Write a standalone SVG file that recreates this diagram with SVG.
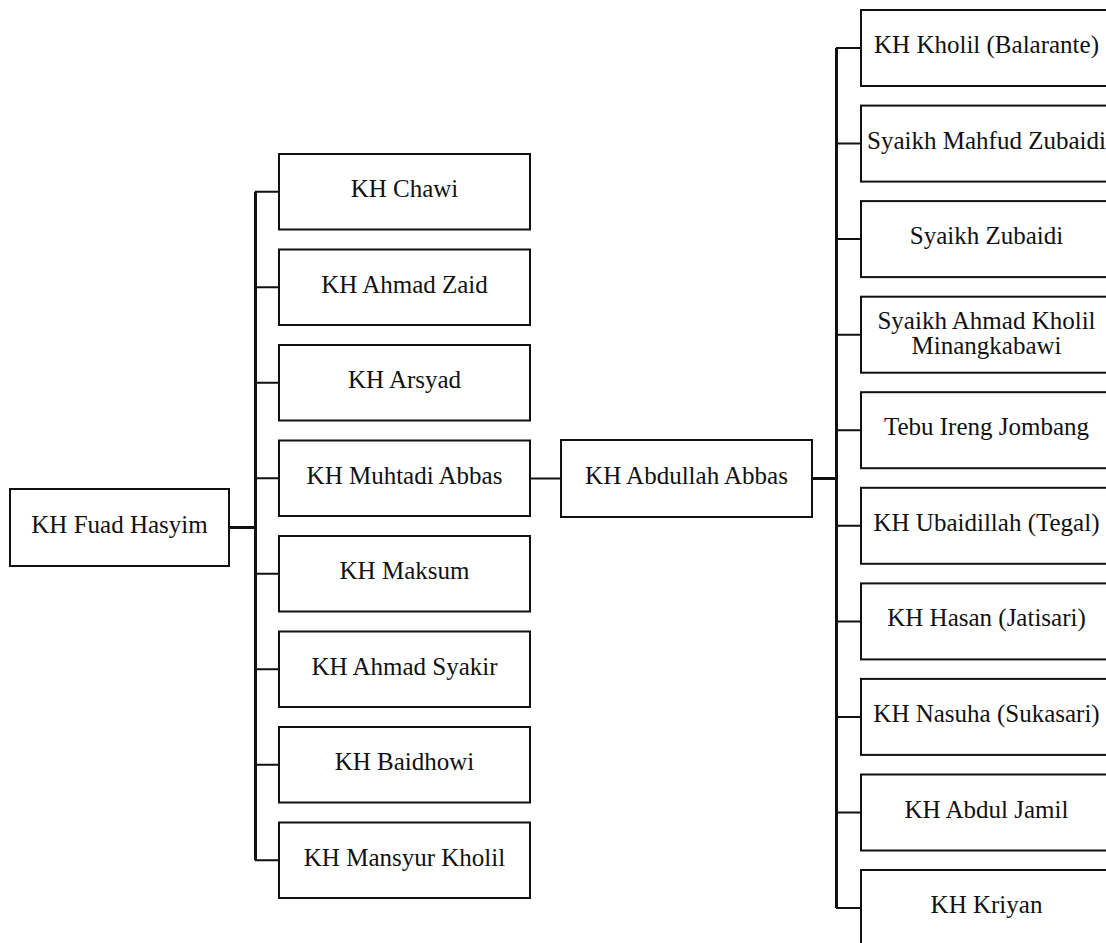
<svg xmlns="http://www.w3.org/2000/svg" width="1106" height="943" viewBox="0 0 1106 943">
  <style>
    .box { fill: #ffffff; stroke: #111111; stroke-width: 2; }
    .lbl { font-family: 'Liberation Serif', 'Times New Roman', Times, 'DejaVu Serif', serif; font-size: 25px; fill: #111111; text-anchor: middle; }
    .wire { fill: none; stroke: #111111; stroke-width: 2; }
    .bus { fill: none; stroke: #111111; stroke-width: 3; }
  </style>
  <rect width="1106" height="943" fill="#ffffff"/>

  <!-- connectors -->
  <g id="connectors">
    <!-- root to left trunk -->
    <line class="bus" x1="229" y1="527.5" x2="256" y2="527.5"/>
    <line class="bus" x1="255.5" y1="191.7" x2="255.5" y2="860.2"/>
    <path class="wire" d="M255 191.7H279 M255 287.2H279 M255 382.7H279 M255 478.2H279 M255 573.7H279 M255 669.2H279 M255 764.7H279 M255 860.2H279"/>
    <!-- Muhtadi Abbas to Abdullah Abbas -->
    <line class="wire" x1="530" y1="478.5" x2="561" y2="478.5"/>
    <!-- Abdullah Abbas to right trunk -->
    <line class="bus" x1="812" y1="478.5" x2="837" y2="478.5"/>
    <line class="bus" x1="836.5" y1="48" x2="836.5" y2="908"/>
    <path class="wire" d="M836 48H861 M836 143.6H861 M836 239.1H861 M836 334.7H861 M836 430.2H861 M836 525.8H861 M836 621.4H861 M836 716.9H861 M836 812.5H861 M836 908H861"/>
  </g>

  <!-- root -->
  <g id="kh-fuad-hasyim">
    <rect class="box" x="10" y="489" width="219" height="77"/>
    <text class="lbl" x="119.5" y="533" font-family="Liberation Serif, Times New Roman, DejaVu Serif, serif">KH Fuad Hasyim</text>
  </g>

  <!-- left column -->
  <g id="kh-chawi">
    <rect class="box" x="279" y="154" width="251" height="75.5"/>
    <text class="lbl" x="404.5" y="197">KH Chawi</text>
  </g>
  <g id="kh-ahmad-zaid">
    <rect class="box" x="279" y="249.5" width="251" height="75.5"/>
    <text class="lbl" x="404.5" y="292.5">KH Ahmad Zaid</text>
  </g>
  <g id="kh-arsyad">
    <rect class="box" x="279" y="345" width="251" height="75.5"/>
    <text class="lbl" x="404.5" y="388">KH Arsyad</text>
  </g>
  <g id="kh-muhtadi-abbas">
    <rect class="box" x="279" y="440.5" width="251" height="75.5"/>
    <text class="lbl" x="404.5" y="483.5">KH Muhtadi Abbas</text>
  </g>
  <g id="kh-maksum">
    <rect class="box" x="279" y="536" width="251" height="75.5"/>
    <text class="lbl" x="404.5" y="579">KH Maksum</text>
  </g>
  <g id="kh-ahmad-syakir">
    <rect class="box" x="279" y="631.5" width="251" height="75.5"/>
    <text class="lbl" x="404.5" y="674.5">KH Ahmad Syakir</text>
  </g>
  <g id="kh-baidhowi">
    <rect class="box" x="279" y="727" width="251" height="75.5"/>
    <text class="lbl" x="404.5" y="770">KH Baidhowi</text>
  </g>
  <g id="kh-mansyur-kholil">
    <rect class="box" x="279" y="822.5" width="251" height="75.5"/>
    <text class="lbl" x="404.5" y="865.5">KH Mansyur Kholil</text>
  </g>

  <!-- middle -->
  <g id="kh-abdullah-abbas">
    <rect class="box" x="561" y="440" width="251" height="77"/>
    <text class="lbl" x="686.5" y="484">KH Abdullah Abbas</text>
  </g>

  <!-- right column -->
  <g id="kh-kholil-balarante">
    <rect class="box" x="861" y="10" width="251" height="76"/>
    <text class="lbl" x="986.5" y="53">KH Kholil (Balarante)</text>
  </g>
  <g id="syaikh-mahfud-zubaidi">
    <rect class="box" x="861" y="105.6" width="251" height="76"/>
    <text class="lbl" x="986.5" y="148.6">Syaikh Mahfud Zubaidi</text>
  </g>
  <g id="syaikh-zubaidi">
    <rect class="box" x="861" y="201.1" width="251" height="76"/>
    <text class="lbl" x="986.5" y="244.1">Syaikh Zubaidi</text>
  </g>
  <g id="syaikh-ahmad-kholil-minangkabawi">
    <rect class="box" x="861" y="296.7" width="251" height="76"/>
    <text class="lbl" x="986.5" y="328.5">Syaikh Ahmad Kholil</text>
    <text class="lbl" x="986.5" y="353.5">Minangkabawi</text>
  </g>
  <g id="tebu-ireng-jombang">
    <rect class="box" x="861" y="392.2" width="251" height="76"/>
    <text class="lbl" x="986.5" y="435.2">Tebu Ireng Jombang</text>
  </g>
  <g id="kh-ubaidillah-tegal">
    <rect class="box" x="861" y="487.8" width="251" height="76"/>
    <text class="lbl" x="986.5" y="530.8">KH Ubaidillah (Tegal)</text>
  </g>
  <g id="kh-hasan-jatisari">
    <rect class="box" x="861" y="583.4" width="251" height="76"/>
    <text class="lbl" x="986.5" y="626.4">KH Hasan (Jatisari)</text>
  </g>
  <g id="kh-nasuha-sukasari">
    <rect class="box" x="861" y="678.9" width="251" height="76"/>
    <text class="lbl" x="986.5" y="721.9">KH Nasuha (Sukasari)</text>
  </g>
  <g id="kh-abdul-jamil">
    <rect class="box" x="861" y="774.5" width="251" height="76"/>
    <text class="lbl" x="986.5" y="817.5">KH Abdul Jamil</text>
  </g>
  <g id="kh-kriyan">
    <rect class="box" x="861" y="870" width="251" height="76"/>
    <text class="lbl" x="986.5" y="913">KH Kriyan</text>
  </g>
</svg>
